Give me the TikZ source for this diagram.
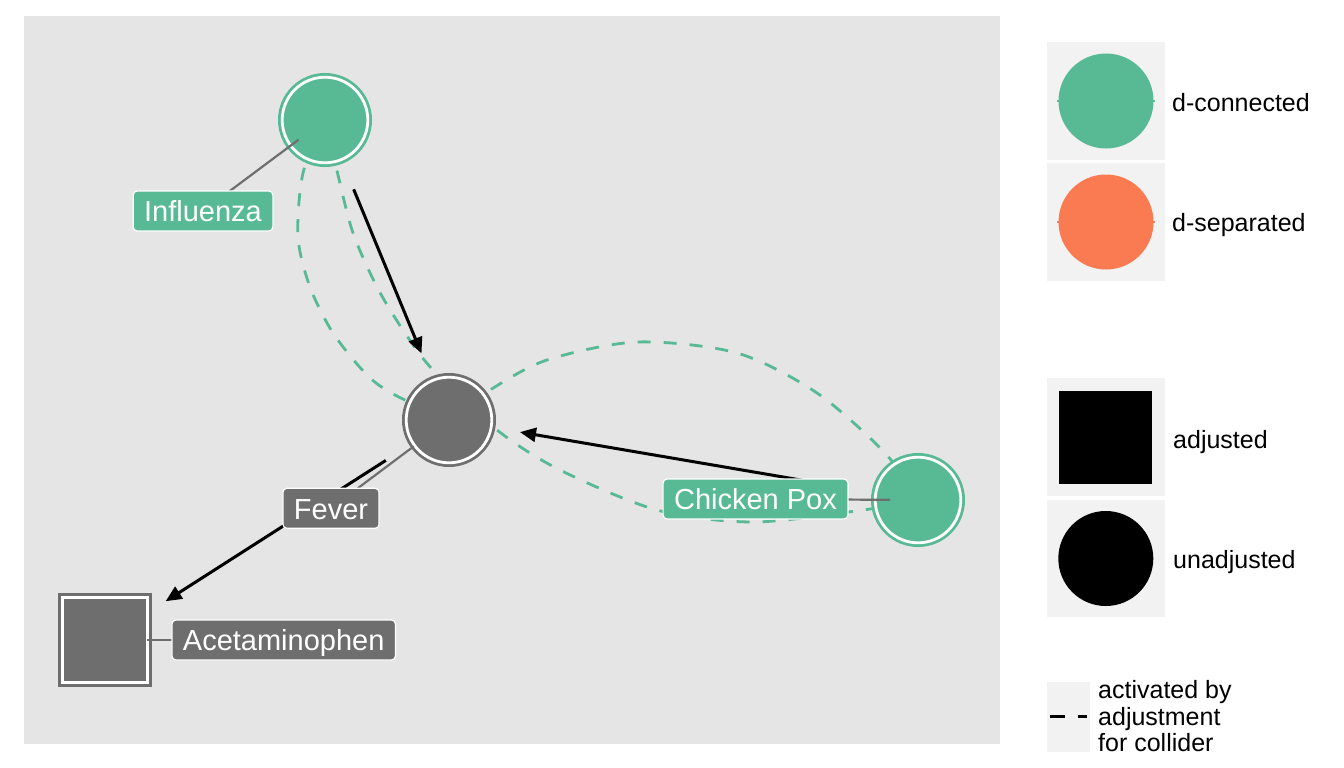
\documentclass[tikz,border=0pt]{standalone}
\usepackage{fontspec}
\setmainfont{Liberation Sans}
\usetikzlibrary{arrows.meta}
\definecolor{dgreen}{HTML}{57BA94}
\definecolor{dorange}{HTML}{FA7B52}
\definecolor{ngray}{HTML}{6E6E6E}
\definecolor{panelbg}{HTML}{E5E5E5}
\definecolor{keybg}{HTML}{F2F2F2}
\pgfdeclarelayer{bg}
\pgfdeclarelayer{edges}
\pgfdeclarelayer{top}
\pgfsetlayers{bg,edges,main,top}
\begin{document}
\begin{tikzpicture}[x=1pt,y=-1pt,
  gnode/.style={circle, fill=dgreen, draw=dgreen, line width=2.8pt, double=white, double distance=2.8pt, minimum size=85.6pt, inner sep=0pt, outer sep=0pt},
  ynode/.style={circle, fill=ngray, draw=ngray, line width=2.8pt, double=white, double distance=2.8pt, minimum size=85.6pt, inner sep=0pt, outer sep=0pt},
  ysq/.style={rectangle, fill=ngray, draw=ngray, line width=2.8pt, double=white, double distance=2.8pt, minimum width=85.4pt, minimum height=85.4pt, inner sep=0pt, outer sep=0pt},
  lab/.style={rounded corners=4pt, draw=white, line width=1.2pt, text=white, font=\fontsize{29}{34}\selectfont, text height=27.7pt, text depth=6.3pt, inner xsep=11pt, inner ysep=3pt, outer sep=0pt},
  glab/.style={lab, fill=dgreen},
  ylab/.style={lab, fill=ngray},
  edgearrow/.style={line width=3pt, -{Triangle[length=16pt,width=14pt]}, shorten <=75pt, shorten >=72pt},
  dline/.style={dgreen, line width=2.8pt, dash pattern=on 13pt off 13pt},
  lead/.style={ngray, line width=2.2pt},
  keybox/.style={fill=keybg},
  legtext/.style={anchor=base west, inner sep=0pt, font=\fontsize{25}{27}\selectfont}
]
\useasboundingbox (0,0) rectangle (1344,768);
\begin{pgfonlayer}{bg}
  \fill[white] (0,0) rectangle (1344,768);
  \fill[panelbg] (24,16) rectangle (1000,744);
\end{pgfonlayer}

% nodes
\node[gnode] (infl) at (325,120) {};
\node[ynode] (fever) at (449,420) {};
\node[gnode] (cp) at (918,500) {};
\node[ysq] (acet) at (105,640) {};

% labels
\begin{pgfonlayer}{top}
  \node[glab] (inflLab) at (203,211) {Influenza};
  \node[ylab] (fevLab) at (331,508.3) {Fever};
  \node[glab] (cpLab) at (755.5,499) {Chicken Pox};
  \node[ylab] (acetLab) at (283.7,640) {Acetaminophen};
\end{pgfonlayer}

% leader lines
\draw[lead, shorten >=33pt] (inflLab) -- (infl.center);
\draw[white, line width=1.4pt, shorten >=44pt, transform canvas={shift={(-1.7pt,-1.7pt)}}] (fevLab) -- (fever.center);
\draw[lead, shorten >=44pt] (fevLab) -- (fever.center);
\draw[lead, shorten >=28pt] (cpLab) -- (cp.center);
\draw[lead, shorten >=42pt] (acetLab) -- (acet.center);

% edges
\begin{pgfonlayer}{edges}
  \draw[dline] plot[smooth] coordinates {(infl.center) (338,175) (353,233) (377,287) (403,330) (433,370) (497,430) (560,470) (657,510) (753,522) (863,510) (cp.center)};
  \draw[dline] plot[smooth] coordinates {(infl.center) (303,173) (298,237) (310,287) (333,333) (367,375) (395,395) (fever.center)};
  \draw[dline] plot[smooth] coordinates {(fever.center) (490,390) (547,360) (637,342) (737,353) (817,393) (885,453) (cp.center)};
  \draw[edgearrow] (infl.center) -- (fever.center);
  \draw[edgearrow] (cp.center) -- (fever.center);
  \draw[edgearrow] (fever.center) -- (acet.center);
\end{pgfonlayer}

% legend
\fill[keybox] (1046.7,41.7) rectangle (1165,160);
\fill[keybox] (1046.7,163.3) rectangle (1165,280.7);
\fill[keybox] (1046.7,378.3) rectangle (1165,496);
\fill[keybox] (1046.7,500) rectangle (1165,617.3);
\fill[keybox] (1046.7,681.7) rectangle (1090,751.7);

\draw[dgreen, line width=2pt] (1057,101) -- (1155,101);
\node[circle, fill=dgreen, minimum size=95pt, inner sep=0pt] (legCon) at (1106,101) {};
\draw[dorange, line width=2pt] (1057,222) -- (1155,222);
\node[circle, fill=dorange, minimum size=95pt, inner sep=0pt] (legSep) at (1106,222) {};
\node[rectangle, fill=black, minimum width=93pt, minimum height=93pt, inner sep=0pt] (legAdj) at (1105.8,437.3) {};
\node[circle, fill=black, minimum size=95pt, inner sep=0pt] (legUnadj) at (1105.8,558.5) {};
\draw[black, line width=3.5pt, dash pattern=on 15pt off 12.7pt] (1050,716.7) -- (1086.7,716.7);

\node[legtext] (tCon) at (1172,111) {d-connected};
\node[legtext] (tSep) at (1172,231.7) {d-separated};
\node[legtext] (tAdj) at (1173,448.3) {adjusted};
\node[legtext] (tUnadj) at (1173,568.3) {unadjusted};
\node[legtext] (tAct1) at (1098,698.5) {activated by};
\node[legtext] (tAct2) at (1098,725.2) {adjustment};
\node[legtext] (tAct3) at (1098,751.9) {for collider};
\end{tikzpicture}
\end{document}
